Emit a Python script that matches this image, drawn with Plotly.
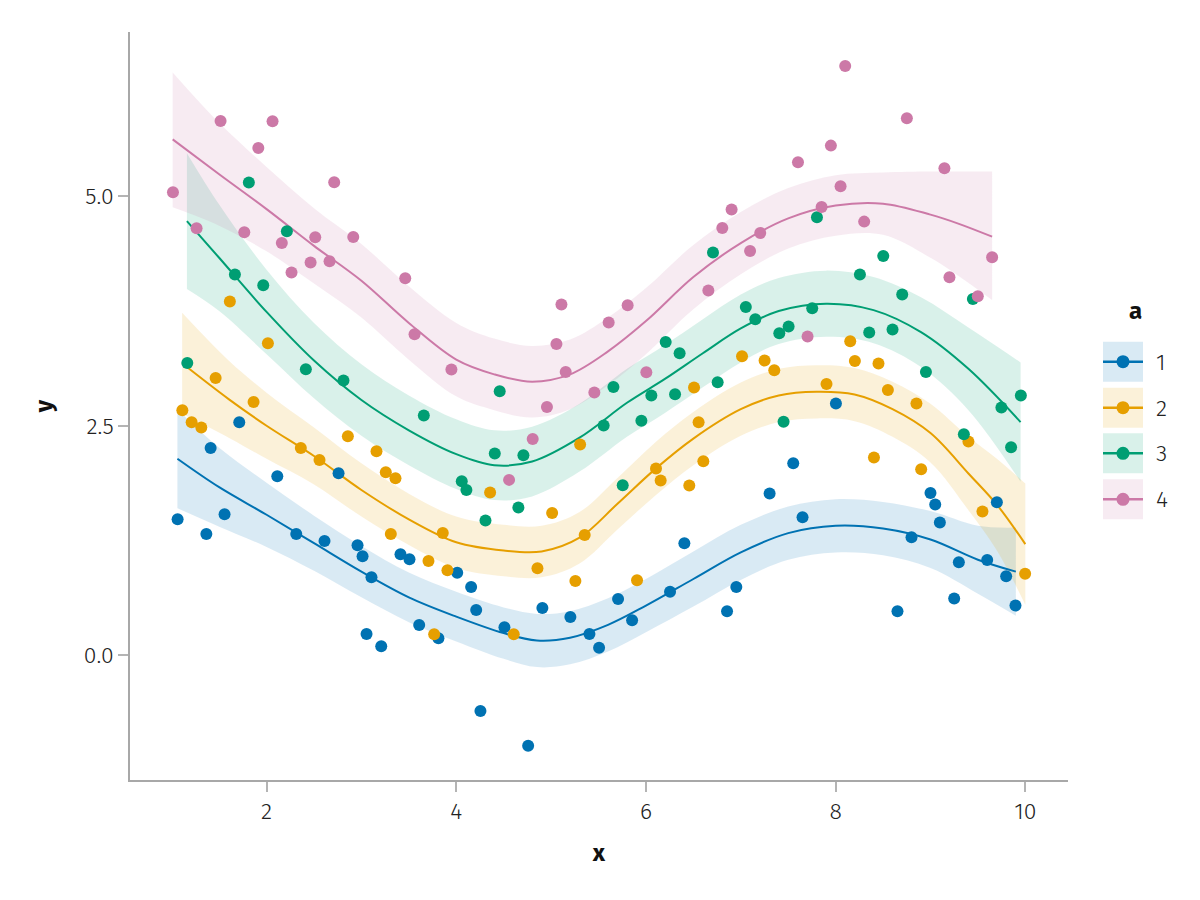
import plotly.graph_objects as go

# ---------------- data ----------------
groups = ["1", "2", "3", "4"]
colors = ["#0072B2", "#E69F00", "#009E73", "#CC79A7"]
bands = ["rgba(0,114,178,0.15)", "rgba(230,159,0,0.15)", "rgba(0,158,115,0.15)", "rgba(204,121,167,0.15)"]

x1 = [1.062, 1.365, 1.410, 1.557, 1.712, 2.113, 2.313, 2.611, 2.759, 2.959, 3.012, 3.106, 3.054, 3.209,
      3.412, 3.507, 3.609, 3.812, 4.010, 4.157, 4.210, 4.255, 4.508, 4.758, 4.908, 5.203, 5.404, 5.506,
      5.706, 5.854, 6.254, 6.405, 6.855, 6.953, 7.304, 7.553, 7.651, 8.003, 8.652, 8.800, 9.000, 9.050,
      9.099, 9.250, 9.299, 9.598, 9.700, 9.798, 9.896]
y1 = [1.481, 1.321, 2.258, 1.536, 2.538, 1.950, 1.321, 1.245, 1.983, 1.198, 1.078, 0.850, 0.232, 0.098,
      1.100, 1.046, 0.330, 0.185, 0.897, 0.744, 0.493, -0.607, 0.305, -0.988, 0.515, 0.417, 0.232, 0.080,
      0.613, 0.381, 0.690, 1.220, 0.479, 0.744, 1.761, 2.092, 1.503, 2.742, 0.479, 1.285, 1.768, 1.642,
      1.446, 0.618, 1.013, 1.038, 1.667, 0.861, 0.541]

x2 = [1.112, 1.210, 1.312, 1.463, 1.613, 1.863, 2.014, 2.361, 2.558, 2.857, 3.159, 3.257, 3.359, 3.310,
      3.707, 3.767, 3.858, 3.907, 4.357, 4.606, 4.856, 5.011, 5.256, 5.306, 5.354, 5.906, 6.106, 6.155,
      6.457, 6.555, 6.605, 6.507, 7.013, 7.251, 7.353, 7.904, 8.154, 8.203, 8.452, 8.551, 8.852, 8.404,
      8.902, 9.400, 9.548, 9.998]
y2 = [2.669, 2.538, 2.480, 3.021, 3.853, 2.759, 3.399, 2.258, 2.127, 2.386, 2.222, 1.993, 1.928, 1.321,
      1.027, 0.229, 1.332, 0.926, 1.772, 0.229, 0.948, 1.550, 0.809, 2.295, 1.310, 0.817, 2.034, 1.903,
      1.849, 2.538, 2.113, 2.916, 3.257, 3.210, 3.105, 2.955, 3.420, 3.206, 3.178, 2.890, 2.742, 2.154,
      2.026, 2.328, 1.565, 0.886]

x3 = [1.164, 1.813, 1.666, 1.965, 2.214, 2.414, 2.811, 3.658, 4.058, 4.107, 4.308, 4.406, 4.458, 4.655,
      4.708, 5.554, 5.657, 5.755, 5.952, 6.057, 6.208, 6.307, 6.355, 6.707, 6.756, 7.053, 7.153, 7.406,
      7.504, 7.451, 7.753, 7.803, 8.256, 8.354, 8.502, 8.600, 8.702, 8.952, 9.352, 9.447, 9.748, 9.850,
      9.953]
y3 = [3.184, 5.149, 4.147, 4.031, 4.619, 3.115, 2.992, 2.611, 1.895, 1.801, 1.467, 2.197, 2.876, 1.609,
      2.179, 2.502, 2.923, 1.852, 2.554, 2.829, 3.413, 2.843, 3.290, 4.387, 2.974, 3.794, 3.660, 3.508,
      3.581, 2.544, 3.780, 4.771, 4.147, 3.515, 4.350, 3.548, 3.929, 3.086, 2.407, 3.881, 2.699, 2.266,
      2.829]

x4 = [1.013, 1.262, 1.515, 1.765, 1.913, 2.063, 2.161, 2.263, 2.464, 2.513, 2.664, 2.713, 2.914, 3.462,
      3.560, 3.949, 4.557, 4.806, 4.956, 5.056, 5.109, 5.154, 5.456, 5.607, 5.807, 6.004, 6.658, 6.805,
      6.903, 7.098, 7.205, 7.603, 7.704, 7.852, 7.950, 8.052, 8.101, 8.301, 8.751, 9.147, 9.200, 9.499,
      9.650]
y4 = [5.044, 4.652, 5.820, 4.608, 5.526, 5.817, 4.491, 4.169, 4.278, 4.553, 4.292, 5.153, 4.557, 4.107,
      3.497, 3.112, 1.910, 2.356, 2.705, 3.391, 3.820, 3.086, 2.862, 3.624, 3.813, 3.083, 3.973, 4.655,
      4.855, 4.404, 4.600, 5.370, 3.472, 4.884, 5.552, 5.109, 6.419, 4.724, 5.850, 5.305, 4.118, 3.911,
      4.336]

# smoothed curves with confidence bands
sx1 = [1.06, 1.5, 2.0, 2.5, 3.0, 3.5, 4.0, 4.5, 4.85, 5.2, 5.6, 6.0, 6.5, 7.0, 7.5, 8.0, 8.5, 9.0, 9.5, 9.9]
fit1 = [2.14, 1.83, 1.53, 1.22, 0.91, 0.63, 0.42, 0.24, 0.16, 0.19, 0.33, 0.54, 0.83, 1.12, 1.33, 1.41, 1.38, 1.26, 1.04, 0.91]
hi1 = [2.68, 2.26, 1.88, 1.52, 1.19, 0.90, 0.69, 0.52, 0.45, 0.48, 0.62, 0.83, 1.13, 1.42, 1.62, 1.70, 1.67, 1.57, 1.41, 1.39]
lo1 = [1.60, 1.40, 1.18, 0.92, 0.63, 0.36, 0.15, -0.04, -0.13, -0.10, 0.04, 0.25, 0.53, 0.82, 1.04, 1.12, 1.09, 0.95, 0.67, 0.43]

sx2 = [1.11, 1.6, 2.0, 2.5, 3.0, 3.5, 4.0, 4.5, 4.9, 5.3, 5.7, 6.1, 6.5, 7.0, 7.4, 7.8, 8.2, 8.6, 9.0, 9.4, 9.7, 10.0]
fit2 = [3.18, 2.79, 2.50, 2.17, 1.80, 1.48, 1.23, 1.14, 1.13, 1.28, 1.65, 2.03, 2.36, 2.68, 2.83, 2.87, 2.84, 2.68, 2.42, 1.98, 1.64, 1.21]
hi2 = [3.73, 3.21, 2.86, 2.48, 2.09, 1.76, 1.51, 1.42, 1.41, 1.56, 1.93, 2.32, 2.65, 2.97, 3.12, 3.16, 3.13, 2.98, 2.74, 2.38, 2.14, 1.87]
lo2 = [2.63, 2.37, 2.14, 1.86, 1.51, 1.20, 0.95, 0.86, 0.85, 1.00, 1.37, 1.74, 2.07, 2.39, 2.54, 2.58, 2.55, 2.38, 2.10, 1.58, 1.14, 0.55]

sx3 = [1.16, 1.5, 2.0, 2.5, 3.0, 3.5, 4.0, 4.4, 4.8, 5.3, 5.8, 6.2, 6.6, 7.0, 7.4, 7.9, 8.4, 8.9, 9.4, 9.95]
fit3 = [4.73, 4.33, 3.74, 3.21, 2.78, 2.45, 2.19, 2.07, 2.11, 2.37, 2.75, 3.01, 3.29, 3.56, 3.75, 3.83, 3.76, 3.52, 3.12, 2.54]
hi3 = [5.47, 4.91, 4.20, 3.62, 3.17, 2.83, 2.57, 2.45, 2.49, 2.74, 3.12, 3.38, 3.66, 3.93, 4.11, 4.19, 4.12, 3.90, 3.57, 3.19]
lo3 = [3.99, 3.75, 3.28, 2.80, 2.39, 2.07, 1.81, 1.69, 1.73, 2.00, 2.38, 2.64, 2.92, 3.19, 3.39, 3.47, 3.40, 3.14, 2.67, 1.89]

sx4 = [1.01, 1.5, 2.0, 2.5, 3.0, 3.5, 4.0, 4.4, 4.8, 5.2, 5.6, 6.0, 6.5, 7.0, 7.5, 8.0, 8.5, 9.0, 9.3, 9.65]
fit4 = [5.62, 5.24, 4.86, 4.46, 4.08, 3.62, 3.22, 3.06, 2.98, 3.06, 3.31, 3.64, 4.12, 4.49, 4.76, 4.90, 4.92, 4.80, 4.70, 4.56]
hi4 = [6.35, 5.80, 5.32, 4.87, 4.48, 4.02, 3.62, 3.45, 3.37, 3.44, 3.68, 4.00, 4.47, 4.83, 5.09, 5.23, 5.26, 5.27, 5.27, 5.27]
lo4 = [4.88, 4.68, 4.40, 4.05, 3.68, 3.22, 2.82, 2.67, 2.59, 2.68, 2.94, 3.28, 3.77, 4.15, 4.43, 4.57, 4.58, 4.33, 4.13, 3.87]

x_ticks = [2, 4, 6, 8, 10]
y_ticks = [0.0, 2.5, 5.0]
y_tick_labels = ["0.0", "2.5", "5.0"]

points = [(x1, y1), (x2, y2), (x3, y3), (x4, y4)]
curves = [(sx1, fit1, lo1, hi1), (sx2, fit2, lo2, hi2), (sx3, fit3, lo3, hi3), (sx4, fit4, lo4, hi4)]

# ---------------- figure ----------------
FONT = "Fira Sans, Open Sans, Noto Sans, sans-serif"
OFF = 8                      # page body margin in the browser
W, H = 1200 - OFF, 900 - OFF
L, R, T, B = 130 - OFF, 132, 32 - OFF, 120
PW, PH = W - L - R, H - T - B

fig = go.Figure()

for (sx, fit, lo, hi), c, bc, g in zip(curves, colors, bands, groups):
    fig.add_trace(go.Scatter(x=sx, y=lo, mode="lines", line=dict(width=0, shape="spline"),
                             showlegend=False, hoverinfo="skip"))
    fig.add_trace(go.Scatter(x=sx, y=hi, mode="lines", line=dict(width=0, shape="spline"),
                             fill="tonexty", fillcolor=bc, showlegend=False, hoverinfo="skip"))
for (sx, fit, lo, hi), c, g in zip(curves, colors, groups):
    fig.add_trace(go.Scatter(x=sx, y=fit, mode="lines", line=dict(color=c, width=2, shape="spline"),
                             showlegend=False, name=g))

for (xs, ys), c, g in zip(points, colors, groups):
    fig.add_trace(go.Scatter(x=xs, y=ys, mode="markers", name=g, showlegend=False,
                             marker=dict(color=c, size=12, line=dict(width=0))))

axis_common = dict(showgrid=False, zeroline=False, showline=True, linecolor="#a8a8a8", linewidth=1.5,
                   ticks="outside", ticklen=10, tickwidth=1.5, tickcolor="#b4b4b4",
                   tickfont=dict(family=FONT, size=23, color="#222222", weight=300))

fig.update_layout(
    width=W, height=H,
    margin=dict(l=L, r=R, t=T, b=B, autoexpand=False),
    paper_bgcolor="white", plot_bgcolor="white",
    showlegend=False,
    xaxis=dict(range=[0.56, 10.45], tickvals=x_ticks, ticktext=[str(v) for v in x_ticks],
               title=dict(text="<b>x</b>", font=dict(family=FONT, size=24, color="#111111"), standoff=20),
               **axis_common),
    yaxis=dict(range=[-1.36, 6.79], tickvals=y_ticks, ticktext=y_tick_labels,
               title=dict(text="<b>y</b>", font=dict(family=FONT, size=24, color="#111111"), standoff=24),
               **axis_common),
)

# manual legend (Makie-style: band patch + line + marker), positions in page pixels
def px2paper(px, py):
    return (px - OFF - L) / PW, (H - B - (py - OFF)) / PH

shapes = []
annotations = []
tx, ty = px2paper(1135, 311)
annotations.append(dict(x=tx, y=ty, xref="paper", yref="paper", text="<b>a</b>", showarrow=False,
                        font=dict(family=FONT, size=24, color="#111111"), xanchor="center", yanchor="middle"))
centers = [361.7, 407.7, 453.3, 499.3]
for cy, c, bc, g in zip(centers, colors, bands, groups):
    x0, y0 = px2paper(1103, cy + 20)
    x1p, y1p = px2paper(1143, cy - 20)
    shapes.append(dict(type="rect", xref="paper", yref="paper", x0=x0, y0=y0, x1=x1p, y1=y1p,
                       fillcolor=bc, line=dict(width=0), layer="above"))
    lx0, ly = px2paper(1103, cy)
    lx1, _ = px2paper(1143, cy)
    shapes.append(dict(type="line", xref="paper", yref="paper", x0=lx0, y0=ly, x1=lx1, y1=ly,
                       line=dict(color=c, width=2.5), layer="above"))
    cx0, cy0 = px2paper(1123 - 6.5, cy + 6.5)
    cx1, cy1 = px2paper(1123 + 6.5, cy - 6.5)
    shapes.append(dict(type="circle", xref="paper", yref="paper", x0=cx0, y0=cy0, x1=cx1, y1=cy1,
                       fillcolor=c, line=dict(width=0), layer="above"))
    ax, ay = px2paper(1154, cy)
    annotations.append(dict(x=ax, y=ay, xref="paper", yref="paper", text=g, showarrow=False,
                            font=dict(family=FONT, size=23, color="#222222", weight=300),
                            xanchor="left", yanchor="middle"))

fig.update_layout(shapes=shapes, annotations=annotations)

fig.write_html("out.html")
